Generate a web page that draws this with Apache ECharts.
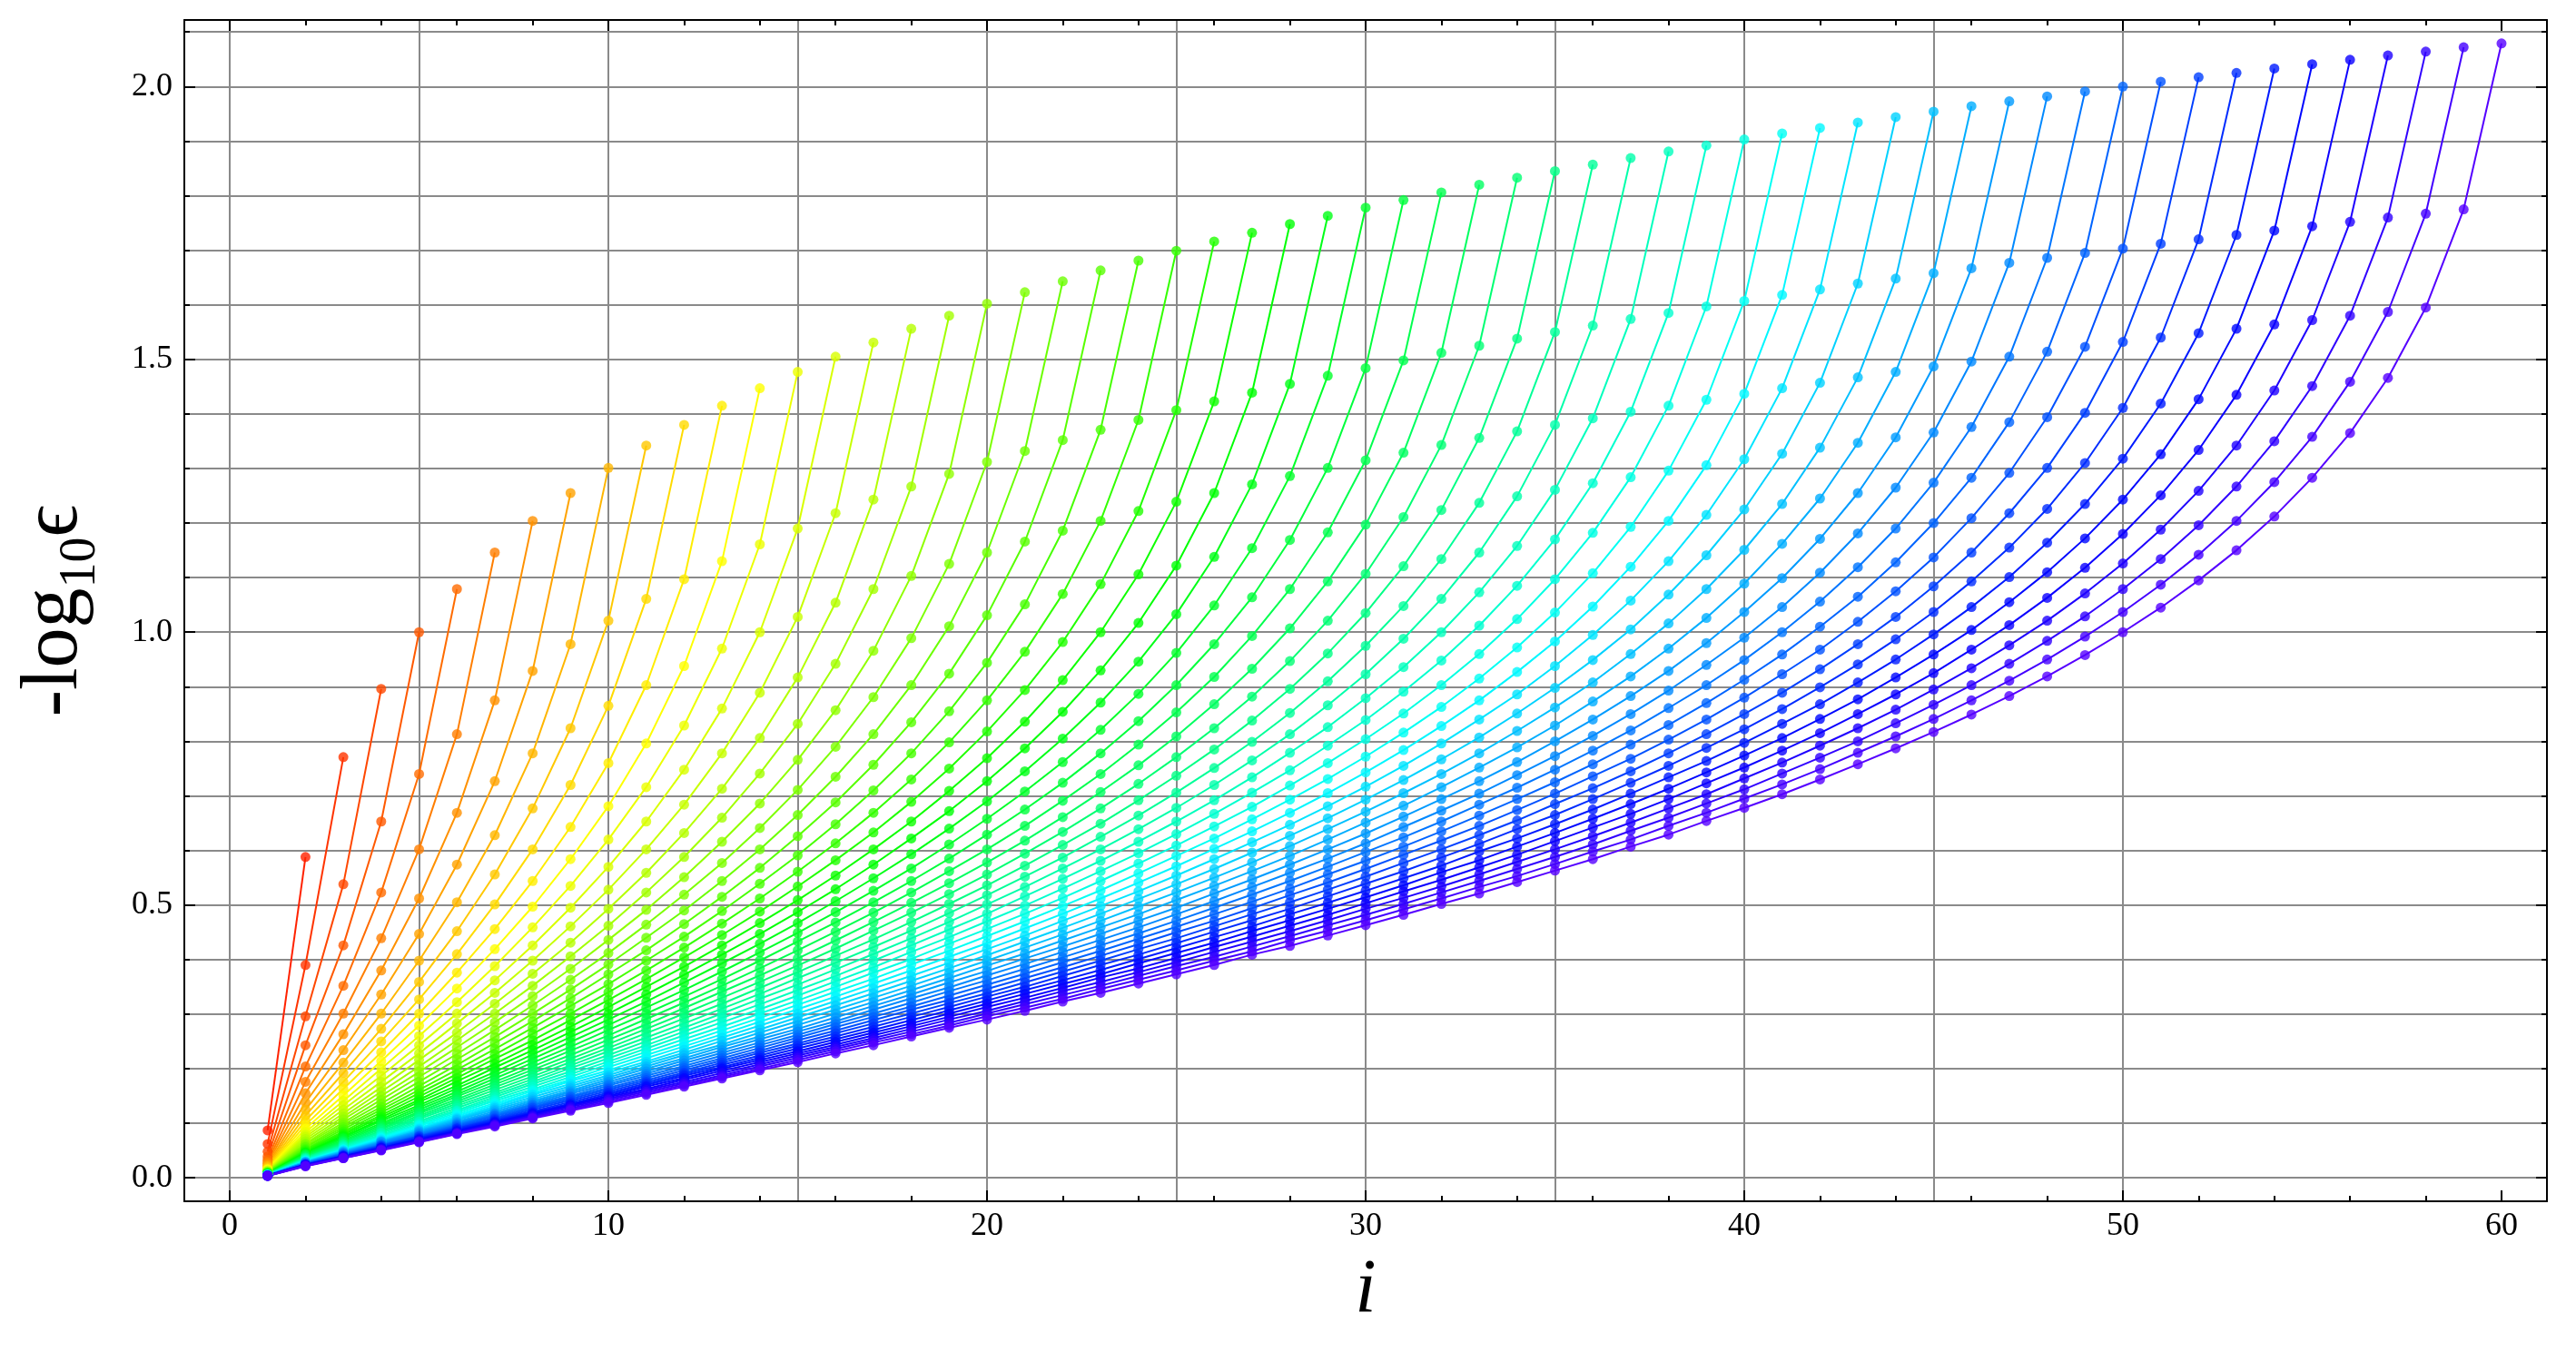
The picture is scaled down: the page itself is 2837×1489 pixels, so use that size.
<!DOCTYPE html>
<html><head><meta charset="utf-8">
<script src="https://cdn.jsdelivr.net/npm/echarts@6/dist/echarts.min.js"></script>
<style>html,body{margin:0;padding:0;background:#fff}#c{width:2837px;height:1489px}</style>
</head><body><div id="c"></div>
<script>
// x positions (index i)
const iValues = [1,2,3,4,5,6,7,8,9,10,11,12,13,14,15,16,17,18,19,20,21,22,23,24,25,26,27,28,29,30,31,32,33,34,35,36,37,38,39,40,41,42,43,44,45,46,47,48,49,50,51,52,53,54,55,56,57,58,59,60];

// -log10(eps) per curve (curve n has points i = 1..n)
const n2 = [0.087,0.588];
const n3 = [0.062,0.39,0.771];
const n4 = [0.048,0.296,0.538,0.896];
const n5 = [0.039,0.243,0.426,0.653,1.0];
const n6 = [0.033,0.204,0.352,0.523,0.740,1.079];
const n7 = [0.029,0.176,0.301,0.439,0.602,0.813,1.146];
const n8 = [0.026,0.155,0.263,0.380,0.512,0.669,0.875,1.204];
const n9 = [0.023,0.138,0.234,0.336,0.447,0.574,0.727,0.929,1.255];
const n10 = [0.021,0.125,0.211,0.301,0.398,0.505,0.628,0.778,0.978,1.301];
const n11 = [0.019,0.114,0.192,0.273,0.359,0.452,0.556,0.677,0.824,1.021,1.342];
const n12 = [0.017,0.105,0.176,0.250,0.327,0.410,0.501,0.602,0.720,0.865,1.061,1.380];
const n13 = [0.016,0.097,0.163,0.230,0.301,0.376,0.456,0.544,0.643,0.760,0.903,1.097,1.415];
const n14 = [0.015,0.090,0.151,0.214,0.279,0.347,0.419,0.497,0.584,0.681,0.796,0.938,1.130,1.447];
const n15 = [0.014,0.084,0.141,0.200,0.260,0.322,0.388,0.459,0.535,0.620,0.716,0.829,0.970,1.161,1.477];
const n16 = [0.013,0.079,0.133,0.187,0.243,0.301,0.362,0.426,0.495,0.570,0.653,0.748,0.860,1.000,1.190,1.505];
const n17 = [0.012,0.075,0.125,0.176,0.228,0.283,0.339,0.398,0.461,0.528,0.602,0.684,0.778,0.889,1.028,1.218,1.531];
const n18 = [0.012,0.071,0.118,0.166,0.216,0.266,0.319,0.374,0.431,0.493,0.559,0.632,0.713,0.806,0.917,1.054,1.243,1.556];
const n19 = [0.011,0.067,0.112,0.158,0.204,0.252,0.301,0.352,0.406,0.462,0.523,0.588,0.660,0.741,0.832,0.942,1.079,1.267,1.580];
const n20 = [0.011,0.063,0.107,0.150,0.194,0.239,0.285,0.333,0.383,0.436,0.491,0.551,0.616,0.686,0.766,0.857,0.966,1.103,1.290,1.602];
const n21 = [0.010,0.061,0.101,0.143,0.185,0.227,0.271,0.316,0.363,0.412,0.464,0.519,0.577,0.641,0.711,0.790,0.881,0.989,1.125,1.312,1.623];
const n22 = [0.010,0.058,0.097,0.136,0.176,0.217,0.258,0.301,0.345,0.391,0.440,0.490,0.544,0.602,0.665,0.735,0.813,0.903,1.011,1.146,1.332,1.643];
const n23 = [0.009,0.056,0.093,0.130,0.168,0.207,0.247,0.287,0.329,0.373,0.417,0.465,0.515,0.568,0.626,0.688,0.757,0.835,0.924,1.031,1.166,1.352,1.663];
const n24 = [0.009,0.053,0.089,0.125,0.161,0.198,0.236,0.275,0.315,0.355,0.398,0.442,0.489,0.539,0.591,0.648,0.710,0.778,0.855,0.944,1.051,1.186,1.371,1.681];
const n25 = [0.009,0.051,0.085,0.120,0.155,0.190,0.226,0.264,0.301,0.340,0.380,0.422,0.466,0.512,0.561,0.613,0.669,0.730,0.798,0.875,0.964,1.070,1.204,1.389,1.699];
const n26 = [0.008,0.049,0.082,0.115,0.149,0.183,0.218,0.252,0.289,0.326,0.364,0.404,0.445,0.488,0.534,0.582,0.633,0.689,0.750,0.818,0.894,0.982,1.088,1.222,1.407,1.716];
const n27 = [0.008,0.047,0.079,0.111,0.143,0.177,0.209,0.243,0.277,0.313,0.350,0.387,0.426,0.467,0.509,0.554,0.602,0.653,0.709,0.769,0.836,0.912,1.000,1.106,1.239,1.423,1.732];
const n28 = [0.008,0.046,0.076,0.107,0.139,0.169,0.202,0.234,0.267,0.301,0.336,0.372,0.409,0.447,0.487,0.529,0.574,0.622,0.672,0.727,0.787,0.854,0.930,1.017,1.122,1.255,1.439,1.748];
const n29 = [0.007,0.044,0.074,0.104,0.133,0.164,0.194,0.226,0.258,0.290,0.323,0.358,0.393,0.429,0.467,0.507,0.549,0.593,0.640,0.690,0.745,0.805,0.871,0.946,1.033,1.138,1.271,1.455,1.763];
const n30 = [0.007,0.043,0.072,0.100,0.129,0.158,0.188,0.218,0.249,0.280,0.312,0.344,0.378,0.413,0.449,0.487,0.526,0.567,0.611,0.658,0.708,0.762,0.821,0.887,0.962,1.049,1.154,1.286,1.470,1.778];
const n31 = [0.007,0.042,0.069,0.097,0.125,0.153,0.182,0.211,0.240,0.271,0.301,0.332,0.364,0.398,0.433,0.468,0.505,0.544,0.585,0.629,0.675,0.724,0.778,0.837,0.903,0.978,1.064,1.169,1.301,1.484,1.792];
const n32 = [0.007,0.040,0.067,0.094,0.121,0.149,0.176,0.204,0.233,0.261,0.291,0.321,0.352,0.384,0.417,0.451,0.486,0.523,0.562,0.602,0.645,0.691,0.740,0.794,0.853,0.918,0.993,1.079,1.183,1.315,1.498,1.806];
const n33 = [0.0065,0.039,0.065,0.091,0.118,0.144,0.171,0.198,0.225,0.253,0.281,0.311,0.341,0.371,0.402,0.435,0.469,0.504,0.540,0.578,0.618,0.661,0.707,0.756,0.809,0.868,0.933,1.007,1.093,1.197,1.329,1.512,1.820];
const n34 = [0.0063,0.037,0.063,0.089,0.114,0.140,0.166,0.192,0.218,0.245,0.273,0.301,0.330,0.359,0.389,0.420,0.453,0.486,0.520,0.556,0.594,0.634,0.677,0.722,0.771,0.824,0.882,0.947,1.021,1.107,1.211,1.343,1.525,1.833];
const n35 = [0.0061,0.037,0.061,0.086,0.111,0.136,0.161,0.186,0.212,0.238,0.265,0.292,0.319,0.348,0.377,0.407,0.437,0.469,0.502,0.536,0.572,0.610,0.649,0.692,0.737,0.785,0.838,0.896,0.961,1.035,1.121,1.224,1.356,1.538,1.845];
const n36 = [0.0059,0.036,0.060,0.083,0.108,0.132,0.156,0.181,0.206,0.232,0.257,0.283,0.310,0.337,0.366,0.394,0.423,0.453,0.485,0.518,0.552,0.587,0.625,0.664,0.706,0.751,0.799,0.852,0.910,0.975,1.048,1.134,1.237,1.368,1.550,1.857];
const n37 = [0.0058,0.035,0.058,0.082,0.104,0.128,0.152,0.176,0.201,0.225,0.250,0.275,0.301,0.328,0.354,0.382,0.410,0.439,0.469,0.501,0.533,0.567,0.602,0.639,0.678,0.720,0.765,0.813,0.866,0.923,0.988,1.061,1.146,1.249,1.380,1.562,1.869];
const n38 = [0.0056,0.034,0.057,0.079,0.102,0.124,0.148,0.172,0.195,0.219,0.243,0.268,0.293,0.318,0.344,0.370,0.398,0.426,0.455,0.484,0.516,0.548,0.581,0.616,0.653,0.692,0.734,0.779,0.826,0.879,0.936,1.000,1.073,1.158,1.261,1.392,1.574,1.881];
const n39 = [0.0055,0.033,0.055,0.077,0.099,0.122,0.144,0.167,0.190,0.213,0.237,0.261,0.285,0.309,0.334,0.360,0.386,0.414,0.441,0.470,0.499,0.530,0.562,0.595,0.630,0.667,0.706,0.747,0.792,0.839,0.891,0.948,1.012,1.085,1.170,1.273,1.404,1.585,1.892];
const n40 = [0.0054,0.032,0.053,0.075,0.097,0.119,0.141,0.162,0.185,0.208,0.231,0.254,0.277,0.301,0.325,0.350,0.376,0.401,0.429,0.456,0.484,0.513,0.544,0.576,0.609,0.644,0.680,0.719,0.760,0.804,0.851,0.903,0.960,1.024,1.097,1.182,1.284,1.415,1.597,1.903];
const n41 = [0.0052,0.031,0.052,0.073,0.095,0.116,0.137,0.159,0.180,0.203,0.225,0.247,0.270,0.293,0.317,0.341,0.365,0.391,0.416,0.443,0.470,0.498,0.527,0.558,0.590,0.622,0.657,0.693,0.731,0.772,0.816,0.863,0.915,0.972,1.036,1.108,1.193,1.296,1.426,1.607,1.914];
const n42 = [0.0051,0.030,0.051,0.072,0.092,0.113,0.134,0.155,0.177,0.197,0.219,0.241,0.263,0.286,0.309,0.332,0.356,0.380,0.405,0.430,0.457,0.484,0.512,0.541,0.571,0.603,0.635,0.669,0.705,0.743,0.784,0.828,0.875,0.927,0.983,1.047,1.120,1.204,1.306,1.437,1.618,1.924];
const n43 = [0.0050,0.030,0.050,0.070,0.090,0.110,0.131,0.152,0.172,0.193,0.213,0.235,0.257,0.279,0.301,0.324,0.347,0.370,0.394,0.419,0.444,0.471,0.498,0.525,0.554,0.584,0.615,0.647,0.681,0.717,0.755,0.796,0.840,0.886,0.938,0.995,1.058,1.130,1.215,1.317,1.447,1.628,1.934];
const n44 = [0.0049,0.030,0.049,0.068,0.088,0.108,0.128,0.148,0.168,0.188,0.209,0.229,0.251,0.272,0.294,0.316,0.338,0.361,0.384,0.408,0.433,0.458,0.484,0.511,0.538,0.566,0.596,0.627,0.659,0.693,0.729,0.767,0.807,0.851,0.898,0.949,1.005,1.069,1.141,1.225,1.327,1.457,1.639,1.944];
const n45 = [0.0048,0.029,0.048,0.067,0.086,0.106,0.125,0.144,0.164,0.184,0.204,0.225,0.244,0.266,0.287,0.308,0.330,0.352,0.375,0.398,0.422,0.446,0.471,0.497,0.523,0.550,0.578,0.608,0.639,0.671,0.705,0.740,0.778,0.819,0.862,0.908,0.960,1.016,1.079,1.151,1.235,1.338,1.467,1.648,1.954];
const n46 = [0.0047,0.028,0.047,0.066,0.085,0.103,0.122,0.141,0.160,0.180,0.200,0.219,0.240,0.259,0.280,0.301,0.322,0.344,0.366,0.389,0.411,0.435,0.459,0.483,0.509,0.535,0.562,0.590,0.620,0.651,0.682,0.716,0.752,0.789,0.829,0.873,0.919,0.970,1.026,1.089,1.162,1.245,1.347,1.477,1.658,1.964];
const n47 = [0.0046,0.027,0.046,0.065,0.083,0.101,0.119,0.138,0.157,0.176,0.195,0.215,0.234,0.254,0.273,0.294,0.315,0.336,0.358,0.379,0.402,0.424,0.447,0.471,0.495,0.521,0.547,0.574,0.602,0.631,0.662,0.694,0.727,0.762,0.800,0.840,0.883,0.929,0.980,1.037,1.099,1.171,1.255,1.357,1.487,1.667,1.973];
const n48 = [0.0045,0.027,0.045,0.063,0.081,0.099,0.117,0.135,0.154,0.172,0.191,0.210,0.229,0.248,0.268,0.287,0.308,0.329,0.349,0.371,0.392,0.414,0.436,0.459,0.483,0.507,0.533,0.559,0.585,0.613,0.643,0.673,0.704,0.738,0.773,0.810,0.850,0.893,0.940,0.990,1.046,1.109,1.181,1.265,1.366,1.496,1.677,1.982];
const n49 = [0.0044,0.027,0.044,0.061,0.079,0.097,0.115,0.133,0.150,0.169,0.187,0.205,0.224,0.243,0.262,0.282,0.301,0.321,0.342,0.362,0.383,0.404,0.426,0.448,0.471,0.495,0.519,0.544,0.570,0.597,0.624,0.653,0.684,0.715,0.748,0.783,0.820,0.861,0.903,0.949,1.000,1.056,1.119,1.190,1.274,1.376,1.505,1.686,1.991];
const n50 = [0.0043,0.026,0.043,0.060,0.077,0.095,0.113,0.130,0.148,0.165,0.183,0.201,0.219,0.238,0.257,0.276,0.295,0.314,0.334,0.354,0.374,0.395,0.416,0.438,0.460,0.483,0.506,0.530,0.556,0.581,0.607,0.635,0.664,0.694,0.725,0.758,0.794,0.830,0.870,0.913,0.959,1.010,1.065,1.128,1.200,1.283,1.385,1.514,1.695,2.000];
const n51 = [0.0042,0.025,0.042,0.059,0.076,0.093,0.110,0.128,0.145,0.162,0.179,0.197,0.215,0.233,0.252,0.270,0.289,0.308,0.326,0.346,0.366,0.386,0.407,0.428,0.450,0.471,0.494,0.518,0.541,0.566,0.592,0.618,0.645,0.674,0.704,0.736,0.768,0.803,0.840,0.880,0.923,0.968,1.019,1.075,1.137,1.209,1.292,1.394,1.523,1.703,2.009];
const n52 = [0.0041,0.024,0.041,0.058,0.075,0.091,0.108,0.125,0.142,0.159,0.176,0.193,0.211,0.229,0.246,0.265,0.283,0.301,0.320,0.338,0.358,0.378,0.398,0.419,0.439,0.461,0.483,0.505,0.528,0.552,0.577,0.602,0.628,0.655,0.685,0.714,0.745,0.778,0.813,0.850,0.889,0.932,0.978,1.028,1.084,1.146,1.218,1.301,1.402,1.532,1.712,2.017];
const n53 = [0.0041,0.024,0.040,0.057,0.073,0.090,0.106,0.122,0.139,0.156,0.173,0.190,0.207,0.224,0.242,0.259,0.277,0.295,0.313,0.332,0.350,0.370,0.390,0.409,0.430,0.451,0.472,0.493,0.516,0.539,0.562,0.587,0.612,0.639,0.665,0.694,0.724,0.755,0.788,0.822,0.859,0.899,0.941,0.987,1.037,1.093,1.155,1.226,1.310,1.411,1.540,1.720,2.025];
const n54 = [0.0040,0.024,0.040,0.055,0.072,0.088,0.104,0.120,0.136,0.153,0.170,0.187,0.203,0.220,0.237,0.254,0.271,0.289,0.307,0.325,0.344,0.362,0.381,0.401,0.421,0.441,0.461,0.483,0.504,0.526,0.549,0.572,0.598,0.622,0.648,0.675,0.704,0.734,0.764,0.797,0.832,0.868,0.908,0.950,0.996,1.046,1.101,1.164,1.235,1.318,1.419,1.548,1.728,2.033];
const n55 = [0.0039,0.024,0.039,0.055,0.070,0.086,0.102,0.118,0.134,0.150,0.167,0.183,0.200,0.216,0.232,0.249,0.266,0.283,0.301,0.319,0.337,0.355,0.373,0.393,0.412,0.431,0.452,0.472,0.493,0.514,0.536,0.560,0.582,0.607,0.632,0.658,0.685,0.713,0.743,0.774,0.806,0.841,0.877,0.917,0.959,1.004,1.055,1.110,1.172,1.243,1.326,1.427,1.556,1.736,2.041];
const n56 = [0.0038,0.023,0.039,0.054,0.069,0.084,0.100,0.116,0.132,0.148,0.163,0.180,0.196,0.212,0.228,0.244,0.261,0.278,0.295,0.313,0.330,0.348,0.367,0.384,0.403,0.423,0.442,0.462,0.482,0.503,0.525,0.546,0.569,0.592,0.617,0.642,0.667,0.694,0.723,0.752,0.783,0.815,0.850,0.886,0.925,0.968,1.013,1.063,1.118,1.180,1.251,1.334,1.435,1.564,1.744,2.049];
const n57 = [0.0038,0.023,0.038,0.053,0.068,0.083,0.098,0.114,0.130,0.145,0.161,0.176,0.192,0.208,0.224,0.240,0.256,0.273,0.290,0.306,0.324,0.342,0.359,0.377,0.395,0.414,0.433,0.452,0.472,0.493,0.513,0.534,0.556,0.579,0.602,0.626,0.651,0.677,0.703,0.732,0.761,0.792,0.824,0.858,0.895,0.934,0.976,1.021,1.071,1.126,1.188,1.259,1.342,1.443,1.572,1.752,2.057];
const n58 = [0.0037,0.022,0.037,0.052,0.067,0.082,0.097,0.112,0.127,0.143,0.158,0.173,0.188,0.204,0.220,0.236,0.252,0.268,0.284,0.301,0.318,0.335,0.352,0.370,0.388,0.405,0.424,0.443,0.463,0.482,0.502,0.523,0.544,0.566,0.588,0.611,0.636,0.660,0.686,0.712,0.741,0.770,0.800,0.833,0.867,0.903,0.942,0.984,1.029,1.079,1.134,1.196,1.267,1.350,1.451,1.580,1.760,2.064];
const n59 = [0.0036,0.022,0.036,0.051,0.066,0.081,0.096,0.110,0.125,0.140,0.155,0.170,0.185,0.200,0.216,0.232,0.248,0.263,0.279,0.296,0.312,0.328,0.346,0.363,0.380,0.398,0.415,0.435,0.453,0.472,0.492,0.512,0.533,0.553,0.575,0.598,0.620,0.645,0.669,0.695,0.721,0.749,0.779,0.809,0.841,0.875,0.911,0.950,0.992,1.037,1.087,1.142,1.204,1.275,1.358,1.459,1.587,1.767,2.072];
const n60 = [0.0036,0.021,0.036,0.050,0.065,0.080,0.094,0.109,0.123,0.137,0.152,0.167,0.182,0.197,0.212,0.228,0.243,0.259,0.275,0.290,0.306,0.323,0.339,0.356,0.373,0.390,0.409,0.425,0.444,0.463,0.482,0.502,0.521,0.542,0.563,0.584,0.607,0.629,0.654,0.678,0.703,0.730,0.758,0.787,0.817,0.849,0.883,0.919,0.958,1.000,1.045,1.095,1.150,1.212,1.283,1.365,1.466,1.595,1.775,2.079];

const curves = [n2,n3,n4,n5,n6,n7,n8,n9,n10,n11,n12,n13,n14,n15,n16,n17,n18,n19,n20,n21,n22,n23,n24,n25,n26,n27,n28,n29,n30,n31,n32,n33,n34,n35,n36,n37,n38,n39,n40,n41,n42,n43,n44,n45,n46,n47,n48,n49,n50,n51,n52,n53,n54,n55,n56,n57,n58,n59,n60];

// tick / grid positions
const xMajorTicks = [0,10,20,30,40,50,60];
const xMinorTicks = [0,2,4,6,8,10,12,14,16,18,20,22,24,26,28,30,32,34,36,38,40,42,44,46,48,50,52,54,56,58,60];
const xGridLines = [0,5,10,15,20,25,30,35,40,45,50];
const yMajorTicks = [0,0.5,1,1.5,2];
const yMinorTicks = [0,0.1,0.2,0.3,0.4,0.5,0.6,0.7,0.8,0.9,1,1.1,1.2,1.3,1.4,1.5,1.6,1.7,1.8,1.9,2,2.1];
const yGridLines = [0,0.1,0.2,0.3,0.4,0.5,0.6,0.7,0.8,0.9,1,1.1,1.2,1.3,1.4,1.5,1.6,1.7,1.8,1.9,2,2.1];

const X_MIN = -1.2, X_MAX = 61.2, Y_MIN = -0.043, Y_MAX = 2.122;
const SERIF = "'Liberation Serif','Times New Roman',serif";
const HUE_START = 8, HUE_END = 260;

function hueHex(h){
  const x = 1 - Math.abs((h/60)%2 - 1);
  let r,g,b;
  if(h<60){r=1;g=x;b=0}else if(h<120){r=x;g=1;b=0}else if(h<180){r=0;g=1;b=x}
  else if(h<240){r=0;g=x;b=1}else if(h<300){r=x;g=0;b=1}else{r=1;g=0;b=x}
  const t=v=>Math.round(v*255).toString(16).padStart(2,'0');
  return '#'+t(r)+t(g)+t(b);
}

const lineSeries = [], dotSeries = [];
curves.forEach((vals,k)=>{
  const color = hueHex(HUE_START + k*(HUE_END-HUE_START)/(curves.length-1));
  const data = vals.map((v,j)=>[iValues[j], v]);
  lineSeries.push({type:'line', data, showSymbol:false, symbol:'none', silent:true, z:2,
    lineStyle:{width:2, color}, emphasis:{disabled:true}});
  dotSeries.push({type:'scatter', data, symbol:'circle', symbolSize:11, silent:true, z:3,
    itemStyle:{color}, emphasis:{disabled:true}});
});

const black = {color:'#000', width:2};
const gridStyle = {color:'#8a8a8a', width:2};
function xa(o){ return Object.assign({type:'value', min:X_MIN, max:X_MAX, gridIndex:0,
  axisLine:{show:false, onZero:false}, axisTick:{show:false}, axisLabel:{show:false}, splitLine:{show:false}}, o); }
function ya(o){ return Object.assign({type:'value', min:Y_MIN, max:Y_MAX, gridIndex:0,
  axisLine:{show:false, onZero:false}, axisTick:{show:false}, axisLabel:{show:false}, splitLine:{show:false}}, o); }

const option = {
  animation:false,
  backgroundColor:'#fff',
  grid:{left:203, right:32, top:22, bottom:166, containLabel:false, outerBoundsMode:'none'},
  xAxis:[
    xa({position:'bottom', axisTick:{show:false, customValues:xGridLines}, splitLine:{show:true, lineStyle:gridStyle}}),
    xa({position:'bottom', axisLine:{show:true, onZero:false, lineStyle:black},
      axisTick:{show:true, inside:true, length:12, customValues:xMajorTicks, lineStyle:black},
      axisLabel:{show:true, customValues:xMajorTicks, fontSize:36, fontFamily:SERIF, color:'#000', margin:10},
      name:'i', nameLocation:'middle', nameGap:58,
      nameTextStyle:{fontSize:84, fontFamily:SERIF, fontStyle:'italic', color:'#000'}}),
    xa({position:'bottom', axisTick:{show:true, inside:true, length:6, customValues:xMinorTicks, lineStyle:black}}),
    xa({position:'top', axisLine:{show:true, onZero:false, lineStyle:black},
      axisTick:{show:true, inside:true, length:12, customValues:xMajorTicks, lineStyle:black}}),
    xa({position:'top', axisTick:{show:true, inside:true, length:6, customValues:xMinorTicks, lineStyle:black}})
  ],
  yAxis:[
    ya({position:'left', axisTick:{show:false, customValues:yGridLines}, splitLine:{show:true, lineStyle:gridStyle}}),
    ya({position:'left', axisLine:{show:true, onZero:false, lineStyle:black},
      axisTick:{show:true, inside:true, length:12, customValues:yMajorTicks, lineStyle:black},
      axisLabel:{show:true, customValues:yMajorTicks, fontSize:36, fontFamily:SERIF, color:'#000', margin:13,
        formatter:v=>Number(v).toFixed(1)},
      name:'{a|-log}{b|10}{a|\u03f5}', nameLocation:'middle', nameRotate:90, nameGap:86,
      nameTextStyle:{color:'#000', fontFamily:SERIF, rich:{
        a:{fontSize:88, fontFamily:SERIF, color:'#000', lineHeight:100, verticalAlign:'top'},
        b:{fontSize:56, fontFamily:SERIF, color:'#000', lineHeight:30, verticalAlign:'bottom'}}}}),
    ya({position:'left', axisTick:{show:true, inside:true, length:6, customValues:yMinorTicks, lineStyle:black}}),
    ya({position:'right', axisLine:{show:true, onZero:false, lineStyle:black},
      axisTick:{show:true, inside:true, length:12, customValues:yMajorTicks, lineStyle:black}}),
    ya({position:'right', axisTick:{show:true, inside:true, length:6, customValues:yMinorTicks, lineStyle:black}})
  ],
  series: lineSeries.concat(dotSeries).map(s=>Object.assign(s,{xAxisIndex:1, yAxisIndex:1}))
};

const chart = echarts.init(document.getElementById('c'), null, {renderer:'canvas'});
chart.setOption(option);
</script>
</body></html>
